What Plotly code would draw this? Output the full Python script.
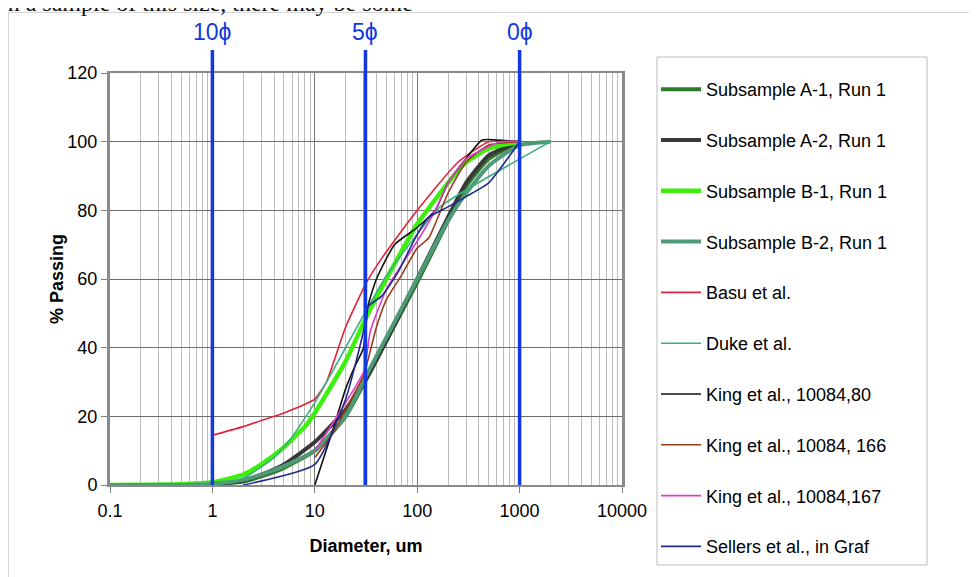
import math
import plotly.graph_objects as go

# ---------------- data ----------------
a1_d = [0.1, 0.5, 1, 2, 3, 5, 10, 20, 32, 50, 100, 200, 300, 500, 1000]
a1_p = [0, 0, 0.3, 1.0, 2.5, 5, 10, 20, 31, 42, 59, 77, 87, 95, 100]

a2_d = [0.1, 0.5, 1, 2, 3, 5, 10, 20, 32, 50, 100, 200, 300, 500, 1000]
a2_p = [0, 0, 0.2, 1.2, 3, 6, 12.5, 22, 31, 42, 60, 78, 88, 96, 100]

b1_d = [0.1, 0.5, 1, 2, 3, 5, 8, 10, 20, 32, 50, 100, 200, 300, 500, 1000]
b1_p = [0, 0.2, 0.8, 3, 6, 11, 17, 21, 36, 49, 60, 76, 88, 94, 98, 100]

b2_d = [0.1, 0.5, 1, 2, 3, 5, 10, 20, 32, 50, 100, 200, 300, 500, 1000, 2000]
b2_p = [0, 0, 0.4, 1.5, 3, 5.5, 10, 20, 32, 43, 60, 77, 85, 93, 99, 100]

basu_d = [1, 2, 4, 5, 8, 10, 13, 20, 32, 45, 100, 250, 500, 1000]
basu_p = [14.5, 17, 20, 21, 23.5, 25, 30, 46, 59, 66, 80, 94, 100, 100]

duke_d = [1, 2, 4, 6, 10, 20, 32, 50, 100, 167, 2000]
duke_p = [0, 2, 8, 14, 24, 40, 51, 61, 73, 81, 100]

k80_d = [10, 15, 20, 25, 30, 33, 40, 60, 100, 150, 200, 250, 430, 600, 1000]
k80_p = [0, 16, 28, 35, 40, 52, 60, 70, 75, 80, 88, 92, 100.5, 100.5, 100]

k166_d = [10, 15, 20, 30, 40, 50, 70, 100, 130, 200, 300, 500, 1000]
k166_p = [8, 15, 22, 32, 46, 54, 61, 69, 72, 85, 94, 99, 100]

k167_d = [10, 15, 20, 30, 35, 50, 70, 100, 150, 200, 300, 650, 1000]
k167_p = [10, 18, 24, 33, 45, 57, 64, 71, 80, 88, 95, 100, 100]

sel_d = [2, 10, 20, 30, 33, 45, 65, 100, 130, 200, 300, 500, 1000]
sel_p = [0, 6, 25, 45, 52, 55, 62, 73, 78, 81, 84, 88, 100]

phi_d = [1, 31.25, 1000]
phi_labels = ["10ϕ", "5ϕ", "0ϕ"]

x_ticks = [0.1, 1, 10, 100, 1000, 10000]
x_tick_text = ["0.1", "1", "10", "100", "1000", "10000"]
y_ticks = [0, 20, 40, 60, 80, 100, 120]

series = [
    ("Subsample A-1, Run 1", a1_d, a1_p, "#2f7a2a", 4),
    ("Subsample A-2, Run 1", a2_d, a2_p, "#383838", 4),
    ("Subsample B-1, Run 1", b1_d, b1_p, "#3df00c", 4.5),
    ("Subsample B-2, Run 1", b2_d, b2_p, "#4e9a76", 4),
    ("Basu et al.", basu_d, basu_p, "#e0233a", 1.6),
    ("Duke et al.", duke_d, duke_p, "#3daf7f", 1.6),
    ("King et al., 10084,80", k80_d, k80_p, "#111111", 1.6),
    ("King et al., 10084, 166", k166_d, k166_p, "#9c3a1c", 1.6),
    ("King et al., 10084,167", k167_d, k167_p, "#e03cc8", 1.6),
    ("Sellers et al., in Graf", sel_d, sel_p, "#1d2c8c", 1.6),
]

FONT = "Arial, Liberation Sans, sans-serif"

fig = go.Figure()
for i, (name, d, p, col, w) in enumerate(series):
    fig.add_trace(go.Scatter(
        x=d, y=p, name=name, mode="lines",
        line=dict(color=col, width=w, shape="spline", smoothing=0.5),
        legendgroup="g%d" % i,
    ))

# the page has an 8px body margin: figure coords = screen coords - 8
L, R, T, B = 102, 363, 65, 100
W, H = 977, 577
pw, ph = W - L - R, H - T - B

def px(xs):
    return (xs - 8 - L) / pw

def py(ys):
    return 1 - (ys - 8 - T) / ph

# phi reference lines
for d, lab in zip(phi_d, phi_labels):
    fig.add_shape(type="line", xref="x", yref="paper", x0=d, x1=d,
                  y0=0, y1=py(50), line=dict(color="#1238e0", width=3.5))
    fig.add_annotation(x=math.log10(d), xref="x", yref="paper", y=py(32),
                       text=lab, showarrow=False, yanchor="middle",
                       font=dict(family=FONT, size=23, color="#1238e0"))

# legend frame
fig.add_shape(type="rect", xref="paper", yref="paper",
              x0=px(657), x1=px(927), y0=py(565), y1=py(57),
              line=dict(color="#bdbdbd", width=1), fillcolor="rgba(0,0,0,0)")
# outer chart frame (left and top edges)
fig.add_shape(type="line", xref="paper", yref="paper",
              x0=px(8.5), x1=px(990), y0=py(12.5), y1=py(12.5),
              line=dict(color="#d6d6d6", width=1))
fig.add_shape(type="line", xref="paper", yref="paper",
              x0=px(8.5), x1=px(8.5), y0=py(12.5), y1=py(590),
              line=dict(color="#d6d6d6", width=1))

# clipped line of document text above the chart
fig.add_annotation(xref="paper", yref="paper", x=px(-1), y=py(3),
                   xanchor="left", yanchor="middle", showarrow=False,
                   text="in a sample of this size, there may be some",
                   font=dict(family="Liberation Serif, Times New Roman, serif", size=24, color="#111"))

fig.update_layout(
    width=W, height=H,
    margin=dict(l=L, r=R, t=T, b=B),
    paper_bgcolor="white", plot_bgcolor="white",
    font=dict(family=FONT, size=18, color="#000"),
    showlegend=True,
    legend=dict(x=px(656), y=py(71), xanchor="left", yanchor="top",
                xref="paper", yref="paper", maxheight=700,
                font=dict(family=FONT, size=18, color="#000"),
                tracegroupgap=24.4, bgcolor="rgba(0,0,0,0)", borderwidth=0,
                itemwidth=40),
    xaxis=dict(
        type="log", range=[-1, 4],
        tickvals=x_ticks, ticktext=x_tick_text,
        showgrid=True, gridcolor="#7a7a7a", gridwidth=1,
        minor=dict(showgrid=True, gridcolor="#bcbcbc", gridwidth=1, dtick="D1", ticks=""),
        ticks="outside", ticklen=6, tickcolor="#808080", ticklabelstandoff=2,
        showline=True, linecolor="#8a8a8a", linewidth=2, mirror=True,
        zeroline=False,
        title=dict(text="<b>Diameter, um</b>", standoff=20, font=dict(size=18)),
        tickfont=dict(size=18),
    ),
    yaxis=dict(
        range=[0, 120], tickvals=y_ticks,
        showgrid=True, gridcolor="#6e6e6e", gridwidth=1,
        ticks="outside", ticklen=6, tickcolor="#808080",
        showline=True, linecolor="#8a8a8a", linewidth=3, mirror=True,
        zeroline=False,
        title=dict(text="<b>% Passing</b>", standoff=0, font=dict(size=18)),
        tickfont=dict(size=18),
    ),
)

fig.write_html("out.html")
